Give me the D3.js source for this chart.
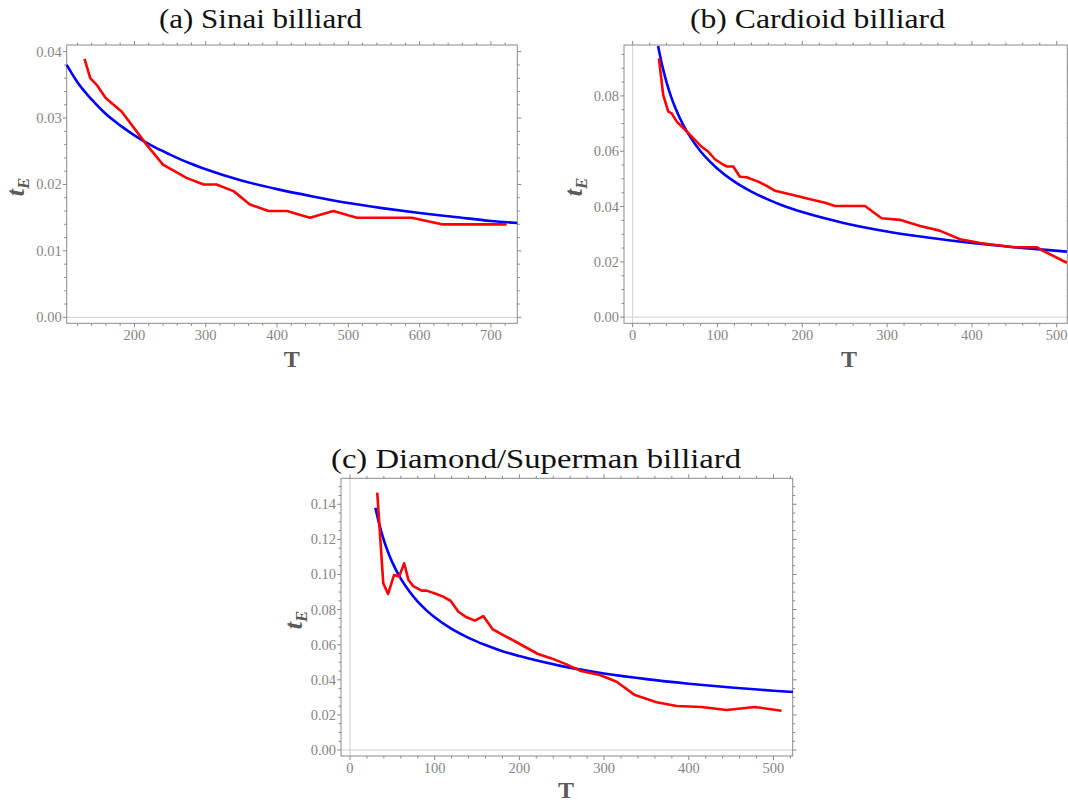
<!DOCTYPE html>
<html>
<head>
<meta charset="utf-8">
<script src="https://cdn.jsdelivr.net/npm/d3@7"></script>
<style>
  body { margin: 0; background: #fff; }
  svg text { font-family: "Liberation Serif", "DejaVu Serif", serif; }
</style>
</head>
<body>
<svg id="chart" width="1068" height="803"></svg>
<script>
// (a) Sinai billiard
var sinaiRedT = [130, 138, 147, 160, 182, 217, 240, 273, 297, 315, 339, 362, 388, 414, 446, 479, 512, 589, 631, 722];
var sinaiRedV = [0.0389, 0.036, 0.035, 0.033, 0.031, 0.026, 0.023, 0.021, 0.020, 0.020, 0.019, 0.017, 0.016, 0.016, 0.015, 0.016, 0.015, 0.015, 0.014, 0.014];
var sinaiBlueT = [105, 120, 140, 160, 180, 200, 225, 250, 275, 300, 350, 400, 450, 500, 550, 600, 650, 700, 737];
var sinaiBlueV = [0.0380, 0.0354, 0.0328, 0.0306, 0.0289, 0.0274, 0.0258, 0.0245, 0.0233, 0.0223, 0.0206, 0.0193, 0.0182, 0.0172, 0.0164, 0.0157, 0.0151, 0.0145, 0.0142];

// (b) Cardioid billiard
var cardRedT = [31, 36, 42, 46, 52, 60, 73.5, 81, 89, 97, 107, 111, 118.6, 126.5, 134.4, 148, 158, 168, 189, 213, 227, 238.6, 274, 293.6, 315, 338.8, 362, 386, 410, 448.8, 476.4, 482, 512];
var cardRedV = [0.0936, 0.0804, 0.0743, 0.0737, 0.0707, 0.0683, 0.0641, 0.0617, 0.0599, 0.0571, 0.0551, 0.0545, 0.0545, 0.0508, 0.0506, 0.049, 0.0475, 0.0457, 0.0442, 0.0424, 0.0414, 0.0402, 0.0402, 0.0358, 0.0352, 0.033, 0.0313, 0.0282, 0.0268, 0.0253, 0.0253, 0.0243, 0.0197];
var cardBlueT = [30, 35, 40, 45, 50, 60, 70, 80, 90, 100, 120, 140, 160, 180, 200, 250, 300, 350, 400, 450, 512];
var cardBlueV = [0.098, 0.0908, 0.0849, 0.0800, 0.0759, 0.0693, 0.0642, 0.0600, 0.0566, 0.0537, 0.0490, 0.0454, 0.0425, 0.0400, 0.0380, 0.0340, 0.0310, 0.0287, 0.0268, 0.0253, 0.0237];

// (c) Diamond/Superman billiard
var diaRedT = [32.2, 39.3, 45, 52, 58, 64, 69, 74.7, 84.6, 90.5, 102, 110, 119, 128, 137.7, 147.5, 157.4, 168.4, 181, 196.8, 222, 238, 255.7, 271.5, 295, 314.8, 336.4, 362, 385.7, 415, 444.7, 478, 509.5];
var diaRedV = [0.1466, 0.095, 0.0889, 0.0997, 0.0988, 0.1064, 0.0969, 0.0934, 0.0908, 0.0908, 0.0889, 0.0874, 0.0849, 0.0788, 0.0756, 0.0737, 0.0763, 0.0688, 0.0655, 0.0614, 0.0547, 0.0522, 0.0488, 0.0452, 0.0427, 0.0389, 0.0313, 0.0272, 0.0251, 0.0245, 0.0228, 0.0245, 0.0224];
var diaBlueT = [30, 35, 40, 45, 50, 60, 70, 80, 90, 100, 120, 140, 160, 180, 200, 250, 300, 350, 400, 450, 500, 523];
var diaBlueV = [0.138, 0.1278, 0.1195, 0.1127, 0.1069, 0.0976, 0.0904, 0.0845, 0.0797, 0.0756, 0.0690, 0.0639, 0.0598, 0.0563, 0.0535, 0.0478, 0.0436, 0.0404, 0.0378, 0.0356, 0.0338, 0.0331];

var titles = ["(a) Sinai billiard", "(b) Cardioid billiard", "(c) Diamond/Superman billiard"];

var svg = d3.select("#chart");

function zip(ts, vs) {
    return ts.map(function(t, i) { return [t, vs[i]]; });
}

var panels = [
    {title: titles[0], red: zip(sinaiRedT, sinaiRedV), blue: zip(sinaiBlueT, sinaiBlueV),
     box: [66.7, 45, 517.3, 323.3], xdom: [105, 737], ydom: [-0.0009, 0.041],
     xmaj: 100, xmin: 20, ymaj: 0.01, ymin: 0.002, yfmt: ".2f", xaxis0: false,
     titleX: 260.5, titleY: 28, titleW: 203, ylab: [24, 187], xlab: [291.7, 367]},
    {title: titles[1], red: zip(cardRedT, cardRedV), blue: zip(cardBlueT, cardBlueV),
     box: [624, 45, 1067.3, 323.3], xdom: [-10.2, 512.5], ydom: [-0.0022, 0.0984],
     xmaj: 100, xmin: 20, ymaj: 0.02, ymin: 0.005, yfmt: ".2f", xaxis0: true,
     titleX: 817.5, titleY: 28, titleW: 255, ylab: [582, 187], xlab: [849, 367]},
    {title: titles[2], red: zip(diaRedT, diaRedV), blue: zip(diaBlueT, diaBlueV),
     box: [341, 478.3, 792.7, 756], xdom: [-10.6, 522.7], ydom: [-0.0034, 0.1548],
     xmaj: 100, xmin: 20, ymaj: 0.02, ymin: 0.005, yfmt: ".2f", xaxis0: true,
     titleX: 536, titleY: 468, titleW: 410, ylab: [302, 620], xlab: [566, 798]}
];

function ticksBetween(dom, step) {
    var out = [];
    var start = Math.ceil(dom[0] / step - 1e-9);
    for (var k = start; k * step <= dom[1] + 1e-12; k++) out.push(+(k * step).toFixed(6));
    return out;
}

panels.forEach(function(p) {
    var b = p.box;
    var x = d3.scaleLinear().domain(p.xdom).range([b[0], b[2]]);
    var y = d3.scaleLinear().domain(p.ydom).range([b[3], b[1]]);
    var g = svg.append("g");

    // light axis lines through zero
    g.append("line").attr("x1", b[0]).attr("x2", b[2]).attr("y1", y(0)).attr("y2", y(0))
        .attr("stroke", "#d0d0d0").attr("stroke-width", 1);
    if (p.xaxis0) {
        g.append("line").attr("x1", x(0)).attr("x2", x(0)).attr("y1", b[1]).attr("y2", b[3])
            .attr("stroke", "#d0d0d0").attr("stroke-width", 1);
    }

    // frame
    g.append("rect").attr("x", b[0]).attr("y", b[1]).attr("width", b[2] - b[0]).attr("height", b[3] - b[1])
        .attr("fill", "none").attr("stroke", "#8a8a8a").attr("stroke-width", 1);

    var tickCol = "#8a8a8a";
    var xMajor = ticksBetween(p.xdom, p.xmaj);
    var xMinor = ticksBetween(p.xdom, p.xmin).filter(function(v) { return Math.abs(v / p.xmaj - Math.round(v / p.xmaj)) > 1e-6; });
    var yMajor = ticksBetween(p.ydom, p.ymaj);
    var yMinor = ticksBetween(p.ydom, p.ymin).filter(function(v) { return Math.abs(v / p.ymaj - Math.round(v / p.ymaj)) > 1e-6; });

    function xt(vals, len) {
        vals.forEach(function(v) {
            g.append("line").attr("x1", x(v)).attr("x2", x(v)).attr("y1", b[3]).attr("y2", b[3] + len)
                .attr("stroke", tickCol).attr("stroke-width", 1);
            g.append("line").attr("x1", x(v)).attr("x2", x(v)).attr("y1", b[1]).attr("y2", b[1] - len)
                .attr("stroke", tickCol).attr("stroke-width", 1);
        });
    }
    function yt(vals, len) {
        vals.forEach(function(v) {
            g.append("line").attr("y1", y(v)).attr("y2", y(v)).attr("x1", b[0]).attr("x2", b[0] - len)
                .attr("stroke", tickCol).attr("stroke-width", 1);
            g.append("line").attr("y1", y(v)).attr("y2", y(v)).attr("x1", b[2]).attr("x2", b[2] + len)
                .attr("stroke", tickCol).attr("stroke-width", 1);
        });
    }
    xt(xMajor, 4); xt(xMinor, 2.5);
    yt(yMajor, 4); yt(yMinor, 2.5);

    g.selectAll(".xl").data(xMajor).enter().append("text")
        .attr("x", function(d) { return x(d); }).attr("y", b[3] + 17)
        .attr("text-anchor", "middle").attr("font-size", 14.5).attr("fill", "#858585")
        .text(function(d) { return d3.format("d")(d); });
    g.selectAll(".yl").data(yMajor).enter().append("text")
        .attr("x", b[0] - 5).attr("y", function(d) { return y(d) + 5; })
        .attr("text-anchor", "end").attr("font-size", 14.5).attr("fill", "#858585")
        .text(function(d) { return d3.format(p.yfmt)(d); });

    // curves
    var line = d3.line().x(function(d) { return x(d[0]); }).y(function(d) { return y(d[1]); });
    g.append("path").datum(p.blue).attr("d", line.curve(d3.curveMonotoneX))
        .attr("fill", "none").attr("stroke", "#0000ff").attr("stroke-width", 2.6);
    g.append("path").datum(p.red).attr("d", line.curve(d3.curveLinear))
        .attr("fill", "none").attr("stroke", "#ff0000").attr("stroke-width", 2.6).attr("stroke-linejoin", "round");

    // labels
    svg.append("text").attr("x", p.titleX).attr("y", p.titleY).attr("text-anchor", "middle")
        .attr("font-size", 28).attr("fill", "#111")
        .attr("textLength", p.titleW).attr("lengthAdjust", "spacingAndGlyphs").text(p.title);

    var yl = svg.append("text").attr("transform", "translate(" + p.ylab[0] + "," + p.ylab[1] + ") rotate(-90)")
        .attr("text-anchor", "middle").attr("font-size", 26).attr("font-weight", "bold")
        .attr("font-style", "italic").attr("fill", "#5a5a5a");
    yl.append("tspan").text("t");
    yl.append("tspan").attr("font-size", 17).attr("dy", 5).text("E");

    svg.append("text").attr("x", p.xlab[0]).attr("y", p.xlab[1]).attr("text-anchor", "middle")
        .attr("font-size", 24).attr("font-weight", "bold").attr("fill", "#5a5a5a").text("T");
});
</script>
</body>
</html>
